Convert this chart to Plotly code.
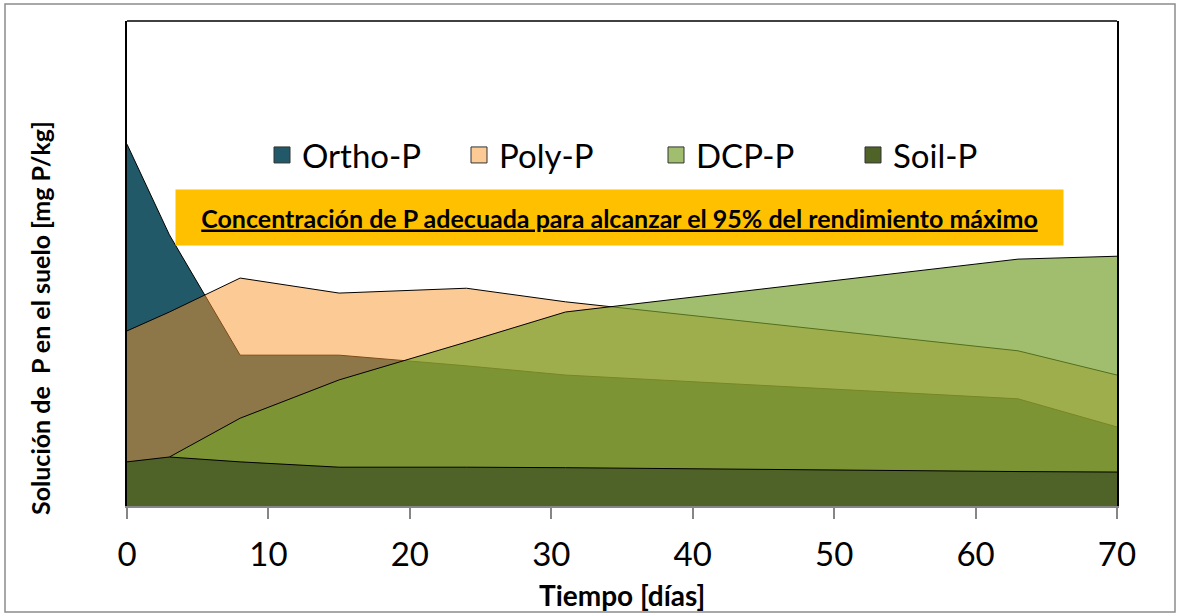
import plotly.graph_objects as go

# days sampled
dias = [0, 3, 8, 15, 24, 31, 63, 70]

# solution P per source (no scale shown on the y axis, relative units 0-100)
ortho_p = [74.6, 55.9, 31.1, 31.1, 28.9, 27.0, 22.1, 16.3]
poly_p = [36.1, 40.0, 47.0, 43.9, 44.9, 42.1, 32.0, 27.0]
dcp_p = [0.0, 10.1, 18.1, 26.0, 33.8, 40.0, 50.9, 51.5]
soil_p = [9.1, 10.1, 9.1, 8.0, 8.0, 7.9, 7.1, 7.0]

series = [
    ("Ortho-P", ortho_p, "#215968", "#215968"),
    ("Poly-P", poly_p, "rgba(249,149,41,0.5)", "#FCCA94"),
    ("DCP-P", dcp_p, "rgba(117,161,45,0.69)", "#A0BE6E"),
    ("Soil-P", soil_p, "#4F6228", "#4F6228"),
]

FONT = "Lato"
L, R, T, B = 127, 61, 21, 109
W, H = 1178, 615
pw, ph = W - L - R, H - T - B


def px(xp):
    return (xp - L) / pw


def py(yp):
    return (H - B - yp) / ph


fig = go.Figure()

# overlapping areas, drawn in legend order (later ones on top)
for name, vals, fill, _ in series:
    fig.add_trace(go.Scatter(
        x=dias, y=vals, mode="lines", fill="tozeroy",
        fillcolor=fill, line=dict(color="black", width=1),
        showlegend=False, hoverinfo="skip",
    ))

# square legend swatches
for name, _, _, swatch in series:
    fig.add_trace(go.Scatter(
        x=[None], y=[None], mode="markers", name=name,
        marker=dict(symbol="square", size=16, color=swatch,
                    line=dict(color="#333333", width=1)),
    ))

fig.add_annotation(
    xref="paper", yref="paper", x=px(619.5), y=py(217.5),
    xanchor="center", yanchor="middle",
    text="<b><u>Concentración de P adecuada para alcanzar el 95% del rendimiento máximo</u></b>",
    showarrow=False, bgcolor="#FFC000", width=885, height=53,
    font=dict(family=FONT, size=25, color="black"),
)
fig.add_annotation(
    xref="paper", yref="paper", x=px(40), y=py(318),
    xanchor="center", yanchor="middle",
    text="<b>Solución de \u00a0P en el suelo [mg P/kg]</b>", textangle=-90,
    showarrow=False, font=dict(family=FONT, size=25, color="black"),
)
fig.add_annotation(
    xref="paper", yref="paper", x=px(622), y=py(595),
    xanchor="center", yanchor="middle",
    text="<b>Tiempo [días]</b>",
    showarrow=False, font=dict(family=FONT, size=28, color="black"),
)

# outer chart border and top frame line
fig.add_shape(type="rect", xref="paper", yref="paper",
              x0=px(5), x1=px(1175), y0=py(612), y1=py(4),
              line=dict(color="#8C8C8C", width=1.5))
fig.add_shape(type="line", xref="paper", yref="paper",
              x0=0, x1=1, y0=1, y1=1, line=dict(color="black", width=1.5))

fig.update_xaxes(
    range=[0, 70], tickvals=[0, 10, 20, 30, 40, 50, 60, 70],
    showgrid=False, zeroline=False,
    showline=True, linecolor="#868686", linewidth=1.5,
    ticks="outside", ticklen=11, tickcolor="#868686", tickwidth=1.5,
    ticklabelstandoff=8,
    tickfont=dict(family=FONT, size=33, color="black"),
)
fig.update_yaxes(
    range=[0, 100], showgrid=False, zeroline=False, showticklabels=False,
    showline=True, linecolor="black", linewidth=1.5, mirror=True,
)

fig.update_layout(
    width=W, height=H,
    margin=dict(l=L, r=R, t=T, b=B),
    plot_bgcolor="white", paper_bgcolor="white",
    font=dict(family=FONT),
    legend=dict(
        orientation="h", x=px(262), y=py(155), xanchor="left", yanchor="middle",
        font=dict(family=FONT, size=33, color="black"),
        bgcolor="rgba(0,0,0,0)", entrywidth=152, entrywidthmode="pixels",
    ),
)

fig.write_html("out.html", config={"displayModeBar": False},
               post_script="document.body.style.margin='0';")
